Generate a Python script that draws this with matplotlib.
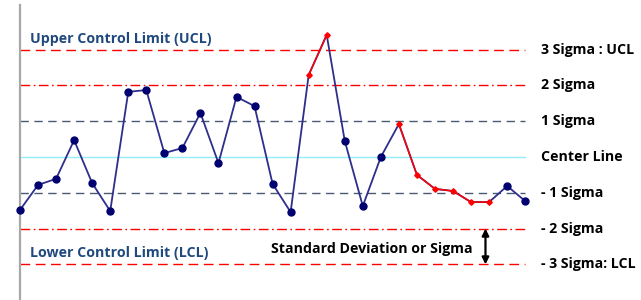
import matplotlib
matplotlib.use("Agg")
import matplotlib.pyplot as plt
import numpy as np

# sample values in sigma units (center line = 0)
values = [-1.48, -0.78, -0.61, 0.47, -0.73, -1.51, 1.82, 1.87, 0.11, 0.25,
          1.23, -0.17, 1.68, 1.42, -0.75, -1.54, 2.29, 3.41, 0.45, -1.37,
          0.0, 0.92, -0.50, -0.89, -0.95, -1.26, -1.26, -0.81, -1.23]
# runs of points flagged out of control (start, end index)
red_runs = [(16, 17), (21, 26)]

levels = [3, 2, 1, 0, -1, -2, -3]
level_labels = ["3 Sigma : UCL", "2 Sigma", "1 Sigma", "Center Line",
                "- 1 Sigma", "- 2 Sigma", "- 3 Sigma: LCL"]

red = "#FF0000"
slate = "#4A5A70"
level_styles = {
    3: dict(color=red, ls=(0, (7, 4))),
    2: dict(color=red, ls=(0, (7, 2.5, 1.2, 2.5))),
    1: dict(color=slate, ls=(0, (6, 4))),
    0: dict(color="#8FEFFA", ls="-"),
    -1: dict(color=slate, ls=(0, (6, 4))),
    -2: dict(color=red, ls=(0, (7, 2.5, 1.2, 2.5))),
    -3: dict(color=red, ls=(0, (7, 4))),
}
font = "Open Sans"
fs = 10.2

fig = plt.figure(figsize=(6.41, 3.0), dpi=100)
ax = fig.add_axes([20 / 641, 0, 621 / 641, 1])
ax.set_xlim(0, 34.42)
ax.set_ylim(-3.994, 4.385)

n = len(values)
x = np.arange(n)
y = np.array(values)
last = n - 1

for lv in levels:
    st = level_styles[lv]
    ax.plot([0, last], [lv, lv], color=st["color"], linestyle=st["ls"], lw=1, zorder=1)

ax.plot(x, y, color="#2E2E8C", lw=1.3, zorder=2, clip_on=False)

red_idx = set()
for a, b in red_runs:
    ax.plot(x[a:b + 1], y[a:b + 1], color=red, lw=1.1, zorder=3)
    red_idx.update(range(a, b + 1))

blue_idx = [i for i in range(n) if i not in red_idx]
ax.plot(x[blue_idx], y[blue_idx], "o", color="#000070", ms=5, zorder=4, clip_on=False)
ri = sorted(red_idx)
ax.plot(x[ri], y[ri], "D", color=red, ms=2.8, zorder=4)

for lv, lab in zip(levels, level_labels):
    ax.text(28.9, lv, lab, fontsize=fs, fontweight="bold", family=font,
            va="center", ha="left", color="black")

ax.text(0.55, 3.3, "Upper Control Limit (UCL)", fontsize=fs, fontweight="bold",
        family=font, color="#1F497D", va="center", ha="left")
ax.text(0.55, -2.68, "Lower Control Limit (LCL)", fontsize=fs, fontweight="bold",
        family=font, color="#1F497D", va="center", ha="left")
ax.text(25.1, -2.57, "Standard Deviation or Sigma", fontsize=fs, fontweight="bold",
        family=font, color="black", va="center", ha="right")
ax.annotate("", xy=(25.8, -2.0), xytext=(25.8, -3.0),
            arrowprops=dict(arrowstyle="<|-|>,head_width=0.2,head_length=0.4",
                            color="black", lw=1.6, shrinkA=0, shrinkB=0))

for s in ["top", "right", "bottom"]:
    ax.spines[s].set_visible(False)
ax.spines["left"].set_color("#A8A8A8")
ax.spines["left"].set_linewidth(1.6)
ax.spines["left"].set_bounds(-3.994, 4.246)
ax.set_xticks([])
ax.set_yticks([])

fig.savefig("out.png", dpi=100)
